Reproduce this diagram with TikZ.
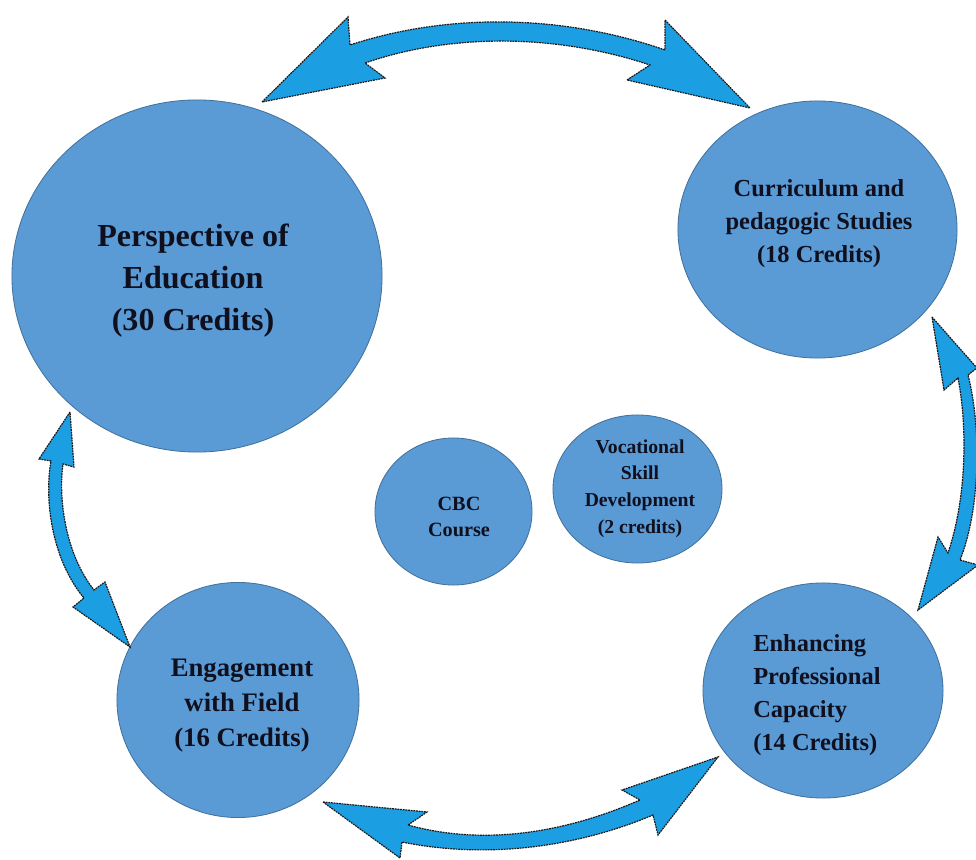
\documentclass[tikz,border=0pt]{standalone}
\usepackage{fontspec}
\setmainfont{Liberation Serif}
\usetikzlibrary{shapes.geometric}
\definecolor{bubblefill}{HTML}{5B9BD5}
\definecolor{bubbleedge}{HTML}{41719C}
\definecolor{arrowfill}{HTML}{1C9FE2}
\definecolor{ink}{HTML}{0F0F1E}
\begin{document}
\begin{tikzpicture}[x=0.025cm,y=-0.025cm,
  bubble/.style={ellipse, draw=bubbleedge, fill=bubblefill, line width=0.6pt, inner sep=0pt},
  bubbletext/.style={text=ink, align=center, inner sep=0pt},
  blockarrow/.style={fill=arrowfill, draw=black!90, line width=0.85pt, dash pattern=on 1.3pt off 0.6pt, line join=miter}]
\useasboundingbox (0,0) rectangle (976,860);

% the six course areas
\node[bubble, minimum width=9.25cm,  minimum height=8.8cm]   (persp) at (197,276)   {};
\node[bubble, minimum width=6.975cm, minimum height=6.425cm] (curr)  at (817.5,229.5) {};
\node[bubble, minimum width=3.925cm, minimum height=3.675cm] (cbc)   at (453.5,511.5) {};
\node[bubble, minimum width=4.225cm, minimum height=3.7cm]   (voc)   at (637.5,489) {};
\node[bubble, minimum width=6.05cm,  minimum height=5.875cm] (engage) at (238,700) {};
\node[bubble, minimum width=6.0cm,   minimum height=5.375cm] (enhance) at (823,690.5) {};

% their titles
\node[bubbletext, font=\fontsize{22.8}{29.9}\selectfont\bfseries] (perspT) at (193,281)
  {Perspective of\\Education\\(30 Credits)};
\node[bubbletext, font=\fontsize{17.4}{23.5}\selectfont\bfseries] (currT) at (819,224)
  {Curriculum and\\pedagogic Studies\\(18 Credits)};
\node[bubbletext, font=\fontsize{14.4}{18.8}\selectfont\bfseries] (cbcT) at (459,517)
  {CBC\\Course};
\node[bubbletext, font=\fontsize{14}{18.9}\selectfont\bfseries] (vocT) at (640,488.5)
  {Vocational\\Skill\\Development\\(2 credits)};
\node[bubbletext, font=\fontsize{19}{24.9}\selectfont\bfseries] (engageT) at (242,706)
  {Engagement\\with Field\\(16 Credits)};
\node[bubbletext, align=left, anchor=west, font=\fontsize{17.4}{23.3}\selectfont\bfseries] (enhanceT) at (753,695)
  {Enhancing\\Professional\\Capacity\\(14 Credits)};

% curved two-headed block arrows linking the outer areas
\coordinate (topL) at (262,102);
\coordinate (topR) at (750,108);
\draw[blockarrow] (topL) -- (348,17) -- (350,45)
  .. controls (450,12) and (565,15) .. (665,50) -- (665,20) -- (topR)
  -- (627,80) -- (650,65)
  .. controls (560,35) and (455,32) .. (365,63) -- (385,78) -- cycle;

\coordinate (rightT) at (932,317);
\coordinate (rightB) at (918,610);
\draw[blockarrow] (rightT) -- (977,368) -- (968,375)
  .. controls (982,430) and (980,510) .. (960,560) -- (978,565) -- (rightB)
  -- (938,537) -- (948,553)
  .. controls (966,500) and (968,430) .. (958,378) -- (944,390) -- cycle;

\coordinate (leftT) at (70,412);
\coordinate (leftB) at (130,647);
\draw[blockarrow] (leftT) -- (39,459) -- (51,461)
  .. controls (44,500) and (52,560) .. (84,598) -- (73,607) -- (leftB)
  -- (105,582) -- (94,590)
  .. controls (66,555) and (58,500) .. (63,464) -- (74,467) -- cycle;

\coordinate (botL) at (323,802);
\coordinate (botR) at (718,757);
\draw[blockarrow] (botL) -- (427,812) -- (408,825)
  .. controls (480,845) and (560,835) .. (640,800) -- (622,790) -- (botR)
  -- (658,835) -- (653,815)
  .. controls (570,850) and (480,858) .. (402,842) -- (400,858) -- cycle;
\end{tikzpicture}
\end{document}
